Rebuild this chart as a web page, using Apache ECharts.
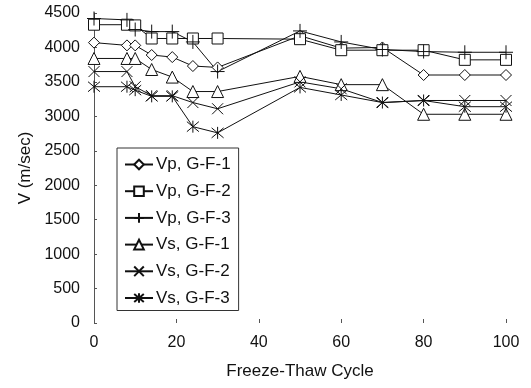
<!DOCTYPE html>
<html>
<head>
<meta charset="utf-8">
<script src="https://cdn.jsdelivr.net/npm/echarts@6/dist/echarts.min.js"></script>
<style>
  html, body { margin: 0; padding: 0; background: #fff; }
  #main { width: 531px; height: 388px; }
</style>
</head>
<body>
<div id="main"></div>
<script>
// freeze-thaw cycles (x) and velocities (m/sec)
var cycles = [0, 8, 10, 14, 19, 24, 30, 50, 60, 70, 80, 90, 100];
var vpGF1 = [4070, 4030, 4030, 3890, 3860, 3730, 3710, 4170, 3990, 4000, 3600, 3600, 3600];
var vpGF2 = [4330, 4330, 4320, 4130, 4130, 4130, 4130, 4120, 3960, 3960, 3960, 3820, 3820];
var vpGF3 = [4420, 4400, 4260, 4230, 4230, 4080, 3650, 4240, 4080, 3970, 3940, 3930, 3930];
var vsGF1 = [3840, 3840, 3840, 3680, 3570, 3360, 3360, 3580, 3460, 3460, 3030, 3030, 3030];
var vsGF2 = [3650, 3650, 3430, 3300, 3300, 3200, 3110, 3500, 3400, 3200, 3230, 3230, 3230];
var vsGF3 = [3430, 3430, 3380, 3290, 3290, 2850, 2760, 3420, 3310, 3200, 3230, 3140, 3140];
var names = ['Vp, G-F-1', 'Vp, G-F-2', 'Vp, G-F-3', 'Vs, G-F-1', 'Vs, G-F-2', 'Vs, G-F-3'];

var symX = 'path://M0,0L10,10M10,0L0,10';
var symPlus = 'path://M5,0L5,10M0,5L10,5';
var symStar = 'path://M0,0L10,10M10,0L0,10M5,-1L5,11';

function pairs(vals) {
  return cycles.map(function (c, i) { return [c, vals[i]]; });
}

function mkSeries(name, vals, sym, size) {
  return {
    name: name,
    type: 'line',
    data: pairs(vals),
    symbol: sym,
    symbolSize: size,
    showAllSymbol: true,
    lineStyle: { color: '#111', width: 1 },
    itemStyle: { color: '#fff', borderColor: '#111', borderWidth: 1 },
    emphasis: { disabled: true },
    animation: false
  };
}

var chart = echarts.init(document.getElementById('main'));
var font = 'Liberation Sans, Arial, sans-serif';

chart.setOption({
  backgroundColor: '#fff',
  grid: { left: 94, right: 25, top: 13, bottom: 65 },
  legend: {
    orient: 'vertical',
    left: 117,
    top: 148,
    data: names,
    itemWidth: 28,
    itemHeight: 12,
    itemGap: 9.7,
    padding: [8, 8, 4, 7],
    borderColor: '#333',
    borderWidth: 1,
    backgroundColor: '#fff',
    textStyle: { color: '#111', fontSize: 17, lineHeight: 17, fontFamily: font, padding: [0, 0, 0, -2] }
  },
  xAxis: {
    type: 'value',
    min: 0,
    max: 100,
    interval: 20,
    name: 'Freeze-Thaw Cycle',
    nameLocation: 'middle',
    nameGap: 40,
    nameTextStyle: { color: '#111', fontSize: 17, fontFamily: font },
    axisLine: { show: false },
    axisTick: { show: true, inside: true, length: 4, lineStyle: { color: '#555' } },
    axisLabel: { color: '#111', fontSize: 16, fontFamily: font, margin: 12 },
    splitLine: { show: false }
  },
  yAxis: {
    type: 'value',
    min: 0,
    max: 4500,
    interval: 500,
    name: 'V (m/sec)',
    nameLocation: 'middle',
    nameGap: 58,
    nameTextStyle: { color: '#111', fontSize: 17, fontFamily: font },
    axisLine: { show: true, lineStyle: { color: '#555', width: 1 } },
    axisTick: { show: true, inside: true, length: 3, lineStyle: { color: '#555' } },
    axisLabel: {
      color: '#111', fontSize: 16, fontFamily: font, margin: 14,
      formatter: function (v) { return String(v); }
    },
    splitLine: { show: false }
  },
  series: [
    mkSeries(names[0], vpGF1, 'diamond', 11),
    mkSeries(names[1], vpGF2, 'rect', 11),
    mkSeries(names[2], vpGF3, symPlus, 14),
    mkSeries(names[3], vsGF1, 'triangle', 12),
    mkSeries(names[4], vsGF2, symX, 11),
    mkSeries(names[5], vsGF3, symStar, 12)
  ]
});
</script>
</body>
</html>
